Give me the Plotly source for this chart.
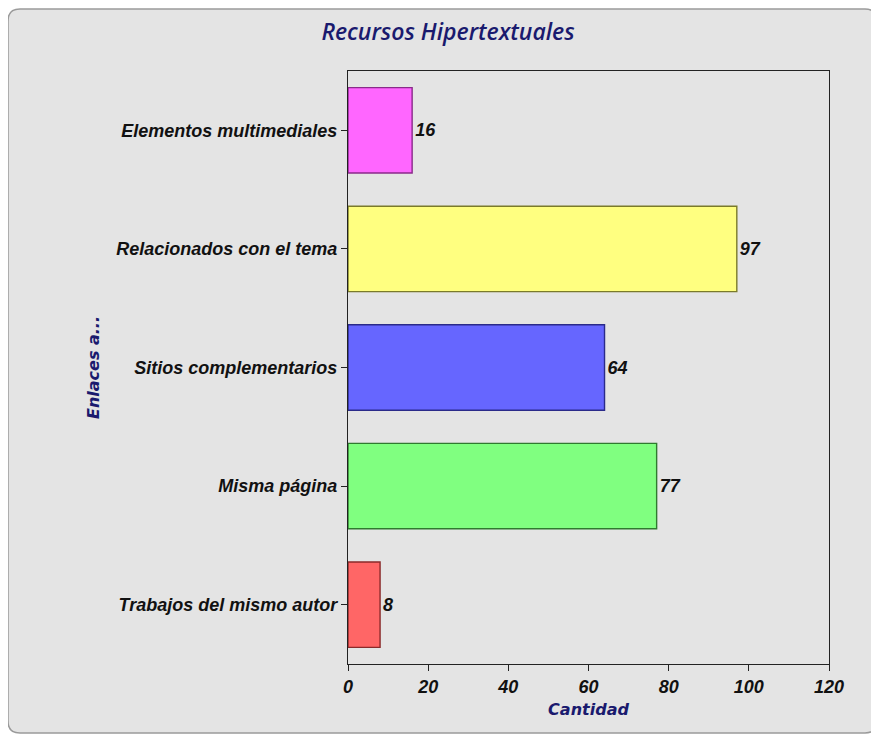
import plotly.graph_objects as go

categories = ["Trabajos del mismo autor", "Misma página", "Sitios complementarios",
              "Relacionados con el tema", "Elementos multimediales"]
values = [8, 77, 64, 97, 16]
colors = ["#ff6666", "#80ff80", "#6666ff", "#ffff80", "#ff66ff"]
edges = ["#8a2a2a", "#2f7a2f", "#2a2a8a", "#7a7a2a", "#8a2a8a"]
x_ticks = [0, 20, 40, 60, 80, 100, 120]

# page is rendered with an 8px body margin; figure sized to fill the rest
OFF = 8
W, H = 879 - OFF, 736 - OFF
L, R, T, B = 348 - OFF, 829 - OFF, 71 - OFF, 664 - OFF

def px(x):
    return (x - OFF - L) / (R - L)

def py(y):
    return (B - (y - OFF)) / (B - T)

fig = go.Figure()
fig.add_trace(go.Bar(
    y=categories, x=values, orientation="h",
    marker=dict(color=colors, line=dict(color=edges, width=1.4)),
    width=0.72,
    text=[str(v) for v in values], textposition="outside",
    textfont=dict(family="Liberation Sans", size=18, color="#111111"),
    texttemplate="<b><i>%{text}</i></b>",
    cliponaxis=False, hoverinfo="skip",
))

# rounded frame
x0, x1, y0, y1, r = px(8), px(877), py(9), py(733), 12
rx = r / (R - L)
ry = r / (B - T)
path = (f"M {x0+rx},{y0} L {x1-rx},{y0} Q {x1},{y0} {x1},{y0-ry} "
        f"L {x1},{y1+ry} Q {x1},{y1} {x1-rx},{y1} L {x0+rx},{y1} "
        f"Q {x0},{y1} {x0},{y1+ry} L {x0},{y0-ry} Q {x0},{y0} {x0+rx},{y0} Z")
fig.add_shape(type="path", path=path, xref="paper", yref="paper",
              fillcolor="#e4e4e4", line=dict(color="#9a9a9a", width=1.5), layer="below")

fig.update_layout(
    width=W, height=H,
    margin=dict(l=L, r=W - R, t=T, b=H - B),
    paper_bgcolor="white", plot_bgcolor="rgba(0,0,0,0)",
    showlegend=False,
    title=dict(text="<i>Recursos Hipertextuales</i>", x=px(448), xref="paper",
               xanchor="center", y=1 - (32 - OFF) / H, yanchor="middle",
               font=dict(family="Open Sans", size=23, weight=600, color="#1a1a6e")),
    xaxis=dict(range=[0, 120], tickvals=x_ticks, ticks="outside", ticklen=6,
               tickcolor="#222", showgrid=False, zeroline=False,
               showline=True, linecolor="#222", linewidth=1.2, mirror=True,
               tickfont=dict(family="Liberation Sans", size=18, color="#111"),
               ticktext=[f"<b><i>{t}</i></b>" for t in x_ticks],
               title=dict(text="<b><i>Cantidad</i></b>", standoff=8,
                          font=dict(family="DejaVu Sans", size=16, color="#1a1a6e"))),
    yaxis=dict(categoryorder="array", categoryarray=categories,
               ticks="outside", ticklen=6, tickcolor="#222",
               showgrid=False, zeroline=False,
               showline=True, linecolor="#222", linewidth=1.2, mirror=True,
               tickvals=categories,
               ticktext=[f"<b><i>{c}</i></b>" for c in categories],
               tickfont=dict(family="Liberation Sans", size=18, color="#111"),
               title=dict(text="<b><i>Enlaces a...</i></b>", standoff=12,
                          font=dict(family="DejaVu Sans", size=16, color="#1a1a6e"))),
)
fig.write_html("out.html")
